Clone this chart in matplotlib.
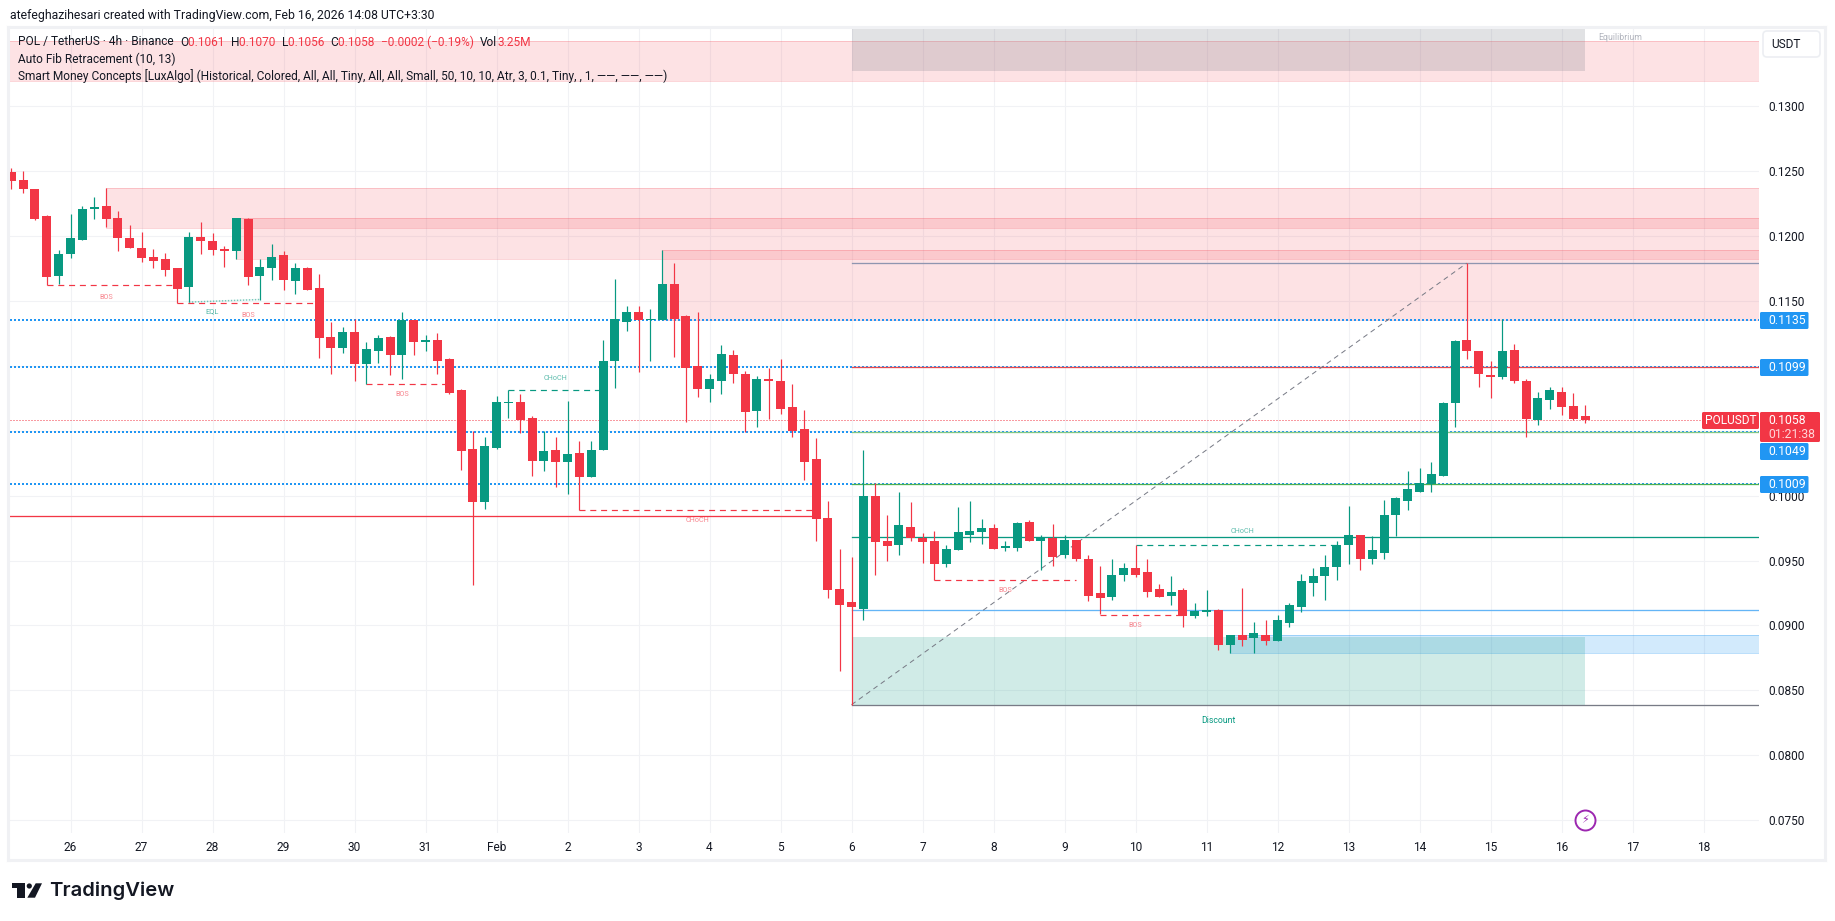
import numpy as np
import matplotlib
matplotlib.use("Agg")
import matplotlib.pyplot as plt
from matplotlib.patches import FancyBboxPatch, Polygon, Circle

# --- POLUSDT 4h candles ---
first_candle = -5  # candle index 0 sits on the "26" gridline
opens = [
    .1249, .1243, .1236, .1215, .1169, .1186, .1197, .1221, .1223, .1214,
    .1198, .1191, .1184, .1182, .1175, .1161, .1199, .1196, .1190, .1188,
    .1213, .1169, .1175, .1185, .1165, .1175, .1160, .1122, .1114, .1126,
    .1101, .1111, .1122, .1108, .1135, .1118, .1120, .1105, .1081, .1036,
    .0995, .1037, .1071, .1072, .1060, .1027, .1035, .1026, .1033, .1014,
    .1035, .1104, .1134, .1141, .1135, .1135, .1163, .1138, .1100, .1082,
    .1088, .1108, .1094, .1065, .1090, .1088, .1068, .1051, .1028, .0983,
    .0928, .0918, .0913, .1000, .0965, .0962, .0976, .0967, .0965, .0947,
    .0958, .0970, .0972, .0975, .0960, .0960, .0980, .0965, .0967, .0954,
    .0966, .0951, .0925, .0922, .0939, .0944, .0941, .0928, .0923, .0927,
    .0907, .0910, .0912, .0885, .0893, .0890, .0893, .0888, .0902, .0914,
    .0933, .0938, .0945, .0962, .0970, .0951, .0956, .0985, .0996, .1003,
    .1009, .1015, .1071, .1120, .1111, .1093, .1091, .1112, .1088, .1058,
    .1074, .1080, .1069, .1061,
]
highs = [
    .1252, .1250, .1236, .1216, .1189, .1217, .1223, .1230, .1237, .1219,
    .1208, .1203, .1190, .1187, .1175, .1203, .1211, .1202, .1192, .1214,
    .1214, .1182, .1194, .1188, .1179, .1176, .1171, .1134, .1130, .1136,
    .1118, .1124, .1123, .1141, .1135, .1124, .1125, .1106, .1082, .1050,
    .1045, .1077, .1081, .1078, .1061, .1050, .1045, .1073, .1042, .1042,
    .1120, .1167, .1146, .1146, .1144, .1189, .1179, .1139, .1141, .1094,
    .1116, .1112, .1096, .1092, .1098, .1105, .1086, .1066, .1044, .0996,
    .0959, .0953, .1035, .1010, .0985, .1003, .0995, .0971, .0973, .0962,
    .0991, .0996, .0982, .0978, .0965, .0980, .0981, .0970, .0978, .0970,
    .0966, .0954, .0946, .0951, .0948, .0962, .0951, .0932, .0938, .0929,
    .0917, .0927, .0913, .0893, .0929, .0903, .0904, .0908, .0917, .0940,
    .0944, .0954, .0965, .0992, .0970, .0969, .0997, .0999, .1019, .1021,
    .1026, .1072, .1120, .1179, .1111, .1104, .1136, .1117, .1090, .1080,
    .1084, .1084, .1079, .1070,
]
lows = [
    .1236, .1233, .1212, .1162, .1163, .1183, .1197, .1213, .1207, .1188,
    .1191, .1180, .1175, .1169, .1148, .1149, .1186, .1185, .1176, .1182,
    .1162, .1151, .1166, .1158, .1155, .1158, .1106, .1094, .1110, .1088,
    .1086, .1102, .1093, .1090, .1108, .1111, .1094, .1078, .1020, .0931,
    .0990, .1036, .1060, .1048, .1015, .1019, .1007, .1001, .0989, .1014,
    .1035, .1083, .1127, .1095, .1104, .1135, .1107, .1057, .1076, .1072,
    .1078, .1087, .1049, .1053, .1059, .1063, .1045, .1012, .0965, .0921,
    .0865, .0839, .0904, .0939, .0950, .0954, .0965, .0948, .0935, .0945,
    .0958, .0964, .0963, .0959, .0957, .0957, .0965, .0943, .0946, .0952,
    .0950, .0919, .0909, .0920, .0934, .0937, .0922, .0922, .0916, .0899,
    .0906, .0907, .0881, .0879, .0884, .0879, .0885, .0888, .0899, .0910,
    .0923, .0920, .0935, .0947, .0943, .0947, .0951, .0969, .0989, .1003,
    .1003, .1015, .1053, .1105, .1084, .1075, .1090, .1087, .1045, .1054,
    .1067, .1062, .1058, .1056,
]
closes = [
    .1242, .1236, .1213, .1168, .1186, .1198, .1221, .1222, .1213, .1198,
    .1191, .1183, .1181, .1174, .1159, .1199, .1196, .1189, .1188, .1214,
    .1168, .1176, .1184, .1166, .1175, .1158, .1121, .1114, .1126, .1101,
    .1113, .1121, .1108, .1135, .1118, .1120, .1104, .1079, .1034, .0995,
    .1038, .1072, .1072, .1058, .1027, .1034, .1026, .1032, .1014, .1035,
    .1104, .1136, .1141, .1135, .1136, .1163, .1136, .1098, .1082, .1090,
    .1109, .1094, .1064, .1090, .1088, .1067, .1050, .1026, .0982, .0927,
    .0916, .0914, .1000, .0964, .0961, .0977, .0967, .0964, .0947, .0959,
    .0972, .0973, .0975, .0959, .0960, .0979, .0965, .0968, .0953, .0966,
    .0951, .0923, .0921, .0939, .0944, .0939, .0926, .0922, .0926, .0907,
    .0911, .0912, .0885, .0893, .0889, .0894, .0888, .0904, .0916, .0934,
    .0938, .0945, .0962, .0970, .0951, .0958, .0985, .0998, .1005, .1010,
    .1017, .1071, .1119, .1111, .1094, .1091, .1111, .1088, .1059, .1075,
    .1081, .1068, .1059, .1058,
]

price_ticks = [.0750, .0800, .0850, .0900, .0950, .1000, .1050, .1100, .1150, .1200, .1250, .1300]
day_labels = ['26', '27', '28', '29', '30', '31', 'Feb', '2', '3', '4', '5', '6', '7', '8',
              '9', '10', '11', '12', '13', '14', '15', '16', '17', '18']
candles_per_day = 6

# supply / demand boxes: start candle, low, high
order_blocks = [(None, .1319, .1350), (3, .1206, .1237), (14, .1182, .1214), (50, .1135, .1189)]
blue_block = (98, .0879, .0893)
# horizontal levels from the 4 dotted lines
dotted_levels = [.1135, .1099, .1049, .1009]
last_price = .1058
# auto fib levels
fib_start, fib_end = 66, 118
fib_levels = [.1179, .1099, .1049, .1009, .0968, .0912, .0839]
fib_colors = ['#8f95b0', '#e5484d', '#81c784', '#4caf50', '#089981', '#64b5f6', '#787b86']
zone_end = 128
premium_low = .1327
discount_high = .0891

# structure breaks: start, end, level, label, label x, label y
red_breaks = [(-2, 9, .1162, 'BOS', 3, .11526), (9, 21, .1148, 'BOS', 15, .11388),
              (25, 32, .1086, 'BOS', 28, .10777), (43, 63, .0989, 'CHoCH', 53, .09807),
              (73, 85, .0935, 'BOS', 79, .09268), (87, 94, .0908, 'BOS', 90, .08998)]
green_breaks = [(37, 45, .1081, 'CHoCH', 41, .1090), (90, 107, .0962, 'CHoCH', 99, .09725)]
eql_x = [10, 16]
eql_y = [.1149, .1151]
swing_low_line = (63, .0984)

RED = '#f23645'
GREEN = '#089981'
BLUE = '#2196f3'
GRID = '#f1f2f5'
TEXT = '#131722'
FONT = 'Roboto'
PX = 0.72  # one pixel in points at dpi 100

plt.rcParams['font.family'] = [FONT, 'DejaVu Sans']

W, H = 1835, 921
fig = plt.figure(figsize=(W / 100, H / 100), dpi=100, facecolor='white')

# pane in pixels
pane_l, pane_r, pane_t, pane_b = 9.5, 1759, 27.5, 833
ax = fig.add_axes([pane_l / W, 1 - pane_b / H, (pane_r - pane_l) / W, (pane_b - pane_t) / H])
step = 71.0 / candles_per_day
x_left = (pane_l - 70.5) / step
x_right = (pane_r - 70.5) / step
y_per_px = 1 / 12987
y_top = .13 + (106 - pane_t) * y_per_px
y_bot = .13 - (pane_b - 106) * y_per_px
ax.set_xlim(x_left, x_right)
ax.set_ylim(y_bot, y_top)
for s in ax.spines.values():
    s.set_visible(False)

# grid and ticks
ax.set_axisbelow(True)
ax.grid(True, color=GRID, lw=1.1 * PX)
ax.set_yticks(price_ticks)
ax.set_yticklabels(['%.4f' % p for p in price_ticks])
ax.yaxis.tick_right()
day_pos = np.arange(len(day_labels)) * candles_per_day
ax.set_xticks(day_pos)
ax.set_xticklabels(day_labels)
ax.tick_params(axis='both', length=0, labelcolor=TEXT, labelsize=8.6)
ax.tick_params(axis='y', pad=6.5)
ax.tick_params(axis='x', pad=5.5)

# zones
for start, lo, hi in order_blocks:
    x0 = x_left if start is None else start
    ax.fill_between([x0, x_right], lo, hi, facecolor=RED, alpha=.14, edgecolor='none', zorder=1)
    ax.plot([x0, x_right], [lo, lo], color=RED, alpha=.2, lw=PX, zorder=1)
    ax.plot([x0, x_right], [hi, hi], color=RED, alpha=.2, lw=PX, zorder=1)
start, lo, hi = blue_block
ax.fill_between([start, x_right], lo, hi, facecolor=BLUE, alpha=.2, edgecolor='none', zorder=1)
ax.plot([start, x_right], [lo, lo], color=BLUE, alpha=.3, lw=PX, zorder=1)
ax.plot([start, x_right], [hi, hi], color=BLUE, alpha=.3, lw=PX, zorder=1)
ax.fill_between([fib_start, zone_end], premium_low, y_top, facecolor='#787b86', alpha=.22, edgecolor='none', zorder=1)
ax.fill_between([fib_start, zone_end], fib_levels[-1], discount_high, facecolor=GREEN, alpha=.19, edgecolor='none', zorder=1)

# levels
for lv in dotted_levels:
    ax.axhline(lv, color=BLUE, lw=2 * PX, ls=(0, (1, 1)), zorder=2)
ax.axhline(last_price, color=RED, lw=PX, ls=(0, (1, 2)), zorder=2)
for lv, c in zip(fib_levels, fib_colors):
    ax.plot([fib_start, x_right], [lv, lv], color=c, lw=1.3 * PX, zorder=2.1)
ax.plot([fib_start, fib_end], [fib_levels[-1], fib_levels[0]], color='#787b86', lw=PX, ls=(0, (5, 4)), zorder=2.1)
ax.plot([x_left, swing_low_line[0]], [swing_low_line[1]] * 2, color=RED, lw=1.3 * PX, zorder=2)

# structure
for x0, x1, lv, lab, lx, ly in red_breaks:
    ax.plot([x0, x1], [lv, lv], color=RED, lw=1.2 * PX, ls=(0, (5, 4)), zorder=2.2)
    ax.text(lx, ly, lab, color=RED, alpha=.6, fontsize=5.2, ha='center', va='center', zorder=2.2)
for x0, x1, lv, lab, lx, ly in green_breaks:
    ax.plot([x0, x1], [lv, lv], color=GREEN, lw=1.2 * PX, ls=(0, (5, 4)), zorder=2.2)
    ax.text(lx, ly, lab, color=GREEN, alpha=.65, fontsize=5.2, ha='center', va='center', zorder=2.2)
ax.plot(eql_x, eql_y, color=GREEN, alpha=.55, lw=1.5 * PX, ls=(0, (1, 1)), zorder=2.2)
ax.text(12, .11416, 'EQL', color=GREEN, alpha=.7, fontsize=5.4, ha='center', va='center', zorder=2.2)
ax.text(97, .08267, 'Discount', color=GREEN, fontsize=6.3, ha='center', va='center', zorder=2.2)
ax.text(131, .13526, 'Equilibrium', color='#b2b5be', fontsize=6.3, ha='center', va='center', zorder=2.2)

# candles
o = np.array(opens)
h = np.array(highs)
l = np.array(lows)
c = np.array(closes)
xs = np.arange(len(o)) + first_candle
colors = [GREEN if cc >= oo else RED for oo, cc in zip(o, c)]
ax.vlines(xs, l, h, colors=colors, lw=1.2 * PX, zorder=3)
ax.bar(xs, np.maximum(np.abs(c - o), .00012), bottom=np.minimum(o, c), width=9 / step,
       color=colors, linewidth=0, zorder=3.1)

# purple lightning badge
ax.plot([zone_end], [.0750], marker='o', ms=20 * PX, mfc='white', mec='#9c27b0', mew=1.4, zorder=4)
ax.text(zone_end, .0750, '\u26a1', family='DejaVu Sans', color='#9c27b0', fontsize=8,
        ha='center', va='center', zorder=4.1)

# --- page furniture, in pixels ---
page = fig.add_axes([0, 0, 1, 1], zorder=5)
page.set_xlim(0, W)
page.set_ylim(H, 0)
page.axis('off')
page.patch.set_alpha(0)


def box(x0, y0, x1, y1, fc, ec='none', lw=0, r=1.5):
    page.add_patch(FancyBboxPatch((x0, y0), x1 - x0, y1 - y0, boxstyle='round,pad=0,rounding_size=%g' % r,
                                  fc=fc, ec=ec, lw=lw))


# frame
for xa, xb, ya, yb in [(8, 1825, 27, 27), (8, 1825, 860, 860), (8, 8, 27, 860), (1825, 1825, 27, 860)]:
    page.plot([xa, xb], [ya, yb], color='#f0f1f4', lw=2.2)

page.text(10, 15, 'atefeghazihesari created with TradingView.com, Feb 16, 2026 14:08 UTC+3:30',
          color=TEXT, fontsize=8.8, va='center')


def run(x, y, parts, size=8.6):
    # legend line in several colours
    rend = fig.canvas.get_renderer()
    for txt, col in parts:
        t = page.text(x, y, txt, color=col, fontsize=size, va='center')
        x += t.get_window_extent(rend).width + (size * .0 if not txt.endswith(' ') else 3.2)


run(18, 42, [('POL / TetherUS \u00b7 4h \u00b7 Binance ', TEXT), ('O', TEXT), ('0.1061 ', RED), ('H', TEXT), ('0.1070 ', RED),
             ('L', TEXT), ('0.1056 ', RED), ('C', TEXT), ('0.1058 ', RED), ('\u22120.0002 (\u22120.19%) ', RED),
             ('Vol', TEXT), ('3.25M', RED)])
page.text(18, 59, 'Auto Fib Retracement (10, 13)', color=TEXT, fontsize=8.6, va='center')
page.text(18, 76, 'Smart Money Concepts [LuxAlgo] (Historical, Colored, All, All, Tiny, All, All, Small, 50, 10, 10, '
          'Atr, 3, 0.1, Tiny, , 1, \u2014\u2014, \u2014\u2014, \u2014\u2014)', color=TEXT, fontsize=8.6, va='center')

# USDT button
box(1763, 31, 1820, 57, 'white', ec='#eceef2', lw=1.2, r=4)
page.text(1771, 44, 'USDT', color=TEXT, fontsize=8.6, va='center')

# price labels
for lab, ya in [('0.1135', 312), ('0.1099', 359), ('0.1049', 443), ('0.1009', 476)]:
    box(1760, ya, 1808.5, ya + 17, BLUE)
    page.text(1768, ya + 8.7, lab, color='white', fontsize=8.8, va='center')
box(1760, 412, 1820, 442, RED)
page.text(1768, 420.5, '0.1058', color='white', fontsize=8.8, va='center')
page.text(1768, 434.5, '01:21:38', color='#ffd5d8', fontsize=8.8, va='center')
box(1702, 412, 1759, 429, RED)
page.text(1730.5, 420.7, 'POLUSDT', color='white', fontsize=8.6, ha='center', va='center')

# TradingView logo
page.add_patch(Polygon([(12.3, 883.3), (25, 883.3), (25, 897.7), (17.3, 897.7), (17.3, 888.3), (12.3, 888.3)], fc=TEXT, ec='none'))
page.add_patch(Circle((29.3, 886), 2.6, fc=TEXT, ec='none'))
page.add_patch(Polygon([(35.7, 883.3), (42, 883.3), (35, 897.7), (27.3, 897.7)], fc=TEXT, ec='none'))
page.text(49, 891, 'TradingView', color=TEXT, fontsize=14.6, family='Inter', weight='semibold', va='center')

fig.savefig('out.png', dpi=100)
